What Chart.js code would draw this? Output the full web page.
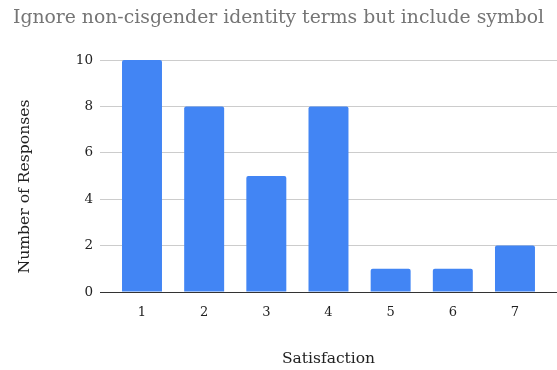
<!DOCTYPE html>
<html>
<head>
<meta charset="utf-8">
<script src="https://cdn.jsdelivr.net/npm/chart.js@4/dist/chart.umd.min.js"></script>
<style>
  html, body { margin: 0; padding: 0; background: #fff; }
  #wrap { width: 557px; height: 370px; }
</style>
</head>
<body>
<div id="wrap"><canvas id="chart"></canvas></div>
<script>
// Satisfaction survey: response counts per rating
const categories = ['1', '2', '3', '4', '5', '6', '7'];
const responses = [10, 8, 5, 8, 1, 1, 2];
const yTicks = [0, 2, 4, 6, 8, 10];

const titleText = 'Ignore non-cisgender identity terms but include symbol';
const xTitle = 'Satisfaction';
const yTitle = 'Number of Responses';

const serif = "'DejaVu Serif', Georgia, serif";

// Bars placed at positions 1..n on a linear axis so the plot can extend past the outer bars
const points = categories.map((c, i) => ({ x: i + 1, y: responses[i] }));

// Vertical axis title, drawn beside the value labels
const yTitlePlugin = {
  id: 'yTitle',
  afterDraw(chart) {
    const { ctx, chartArea } = chart;
    ctx.save();
    ctx.fillStyle = '#222';
    ctx.font = `15.6px ${serif}`;
    ctx.textAlign = 'center';
    ctx.textBaseline = 'middle';
    ctx.translate(25, (chartArea.top + chartArea.bottom) / 2 + 10.5);
    ctx.rotate(-Math.PI / 2);
    ctx.fillText(yTitle, 0, 0);
    ctx.restore();
  }
};

new Chart(document.getElementById('chart'), {
  type: 'bar',
  data: {
    datasets: [{
      data: points,
      backgroundColor: '#4285F4',
      borderWidth: 0,
      borderRadius: 2,
      borderSkipped: 'bottom',
      barPercentage: 0.643,
      categoryPercentage: 1
    }]
  },
  plugins: [yTitlePlugin],
  options: {
    responsive: true,
    maintainAspectRatio: false,
    animation: false,
    layout: { padding: 0 },
    plugins: {
      legend: { display: false },
      tooltip: { enabled: false },
      title: {
        display: true,
        text: titleText,
        color: '#757575',
        font: { family: serif, size: 18.8, weight: 'normal', lineHeight: 1.2 },
        padding: { top: 7, bottom: 30.44 }
      }
    },
    scales: {
      x: {
        type: 'linear',
        offset: false,
        min: 0.3244,
        max: 7.676,
        grid: { display: false, drawTicks: false },
        border: { display: false },
        ticks: {
          stepSize: 1,
          includeBounds: false,
          autoSkip: false,
          maxRotation: 0,
          padding: 13,
          color: '#222',
          font: { family: serif, size: 13 },
          callback: (v) => categories[v - 1] ?? ''
        },
        title: {
          display: true,
          text: xTitle,
          color: '#222',
          font: { family: serif, size: 15.5, lineHeight: 1.2 },
          padding: { top: 0, bottom: 2 }
        },
        afterFit: (s) => { s.height = 78; }
      },
      y: {
        min: 0,
        max: 10,
        grid: {
          drawTicks: false,
          color: (ctx) => (ctx.tick && ctx.tick.value === 0 ? '#333333' : '#cccccc'),
          lineWidth: 1
        },
        border: { display: false },
        afterBuildTicks: (s) => { s.ticks = yTicks.map(v => ({ value: v })); },
        ticks: {
          padding: 7,
          color: '#222',
          font: { family: serif, size: 13.5 }
        },
        title: { display: false },
        afterFit: (s) => { s.width = 100; }
      }
    }
  }
});
</script>
</body>
</html>
